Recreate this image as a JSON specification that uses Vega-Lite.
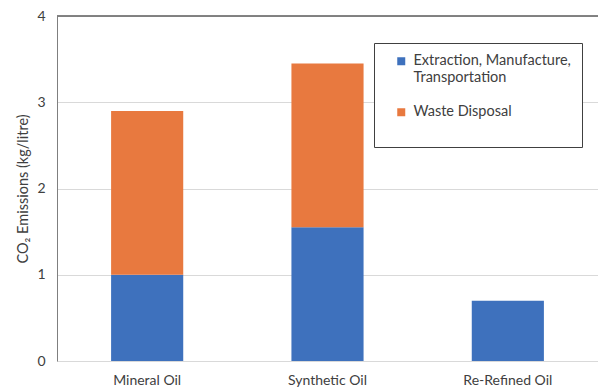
{
  "$schema": "https://vega.github.io/schema/vega-lite/v6.json",
  "width": 541,
  "height": 345,
  "autosize": {"type": "none"},
  "padding": {"left": 57, "top": 16, "right": 0, "bottom": 29},
  "config": {
    "view": {"stroke": null},
    "font": "Lato",
    "axis": {"labelFont": "Lato", "titleFont": "Lato", "labelColor": "#595959", "titleColor": "#595959"}
  },
  "data": {
    "values": [
      {"oil": "Mineral Oil", "component": "Extraction, Manufacture, Transportation", "order": 1, "value": 1.0},
      {"oil": "Mineral Oil", "component": "Waste Disposal", "order": 2, "value": 1.9},
      {"oil": "Synthetic Oil", "component": "Extraction, Manufacture, Transportation", "order": 1, "value": 1.55},
      {"oil": "Synthetic Oil", "component": "Waste Disposal", "order": 2, "value": 1.9},
      {"oil": "Re-Refined Oil", "component": "Extraction, Manufacture, Transportation", "order": 1, "value": 0.7}
    ]
  },
  "layer": [
    {
      "mark": {"type": "bar"},
      "encoding": {
        "x": {
          "field": "oil", "type": "nominal", "sort": ["Mineral Oil", "Synthetic Oil", "Re-Refined Oil"],
          "scale": {"paddingInner": 0.6, "paddingOuter": 0.3},
          "axis": {"title": null, "labelAngle": 0, "ticks": false, "domainColor": "#d9d9d9", "labelFontSize": 14, "labelPadding": 12, "labelColor": "#404040"}
        },
        "y": {
          "field": "value", "type": "quantitative", "stack": "zero",
          "scale": {"domain": [0, 4]},
          "axis": {"title": "CO₂ Emissions (kg/litre)", "values": [0, 1, 2, 3, 4], "format": "d", "labelOverlap": false, "ticks": false, "domainColor": "#7f7f7f", "gridColor": "#d9d9d9", "labelFontSize": 14, "labelPadding": 12, "titleFontSize": 14.5, "titleFontWeight": "normal", "titlePadding": 6, "labelColor": "#404040", "titleColor": "#404040"}
        },
        "color": {
          "field": "component", "type": "nominal",
          "scale": {"domain": ["Extraction, Manufacture, Transportation", "Waste Disposal"], "range": ["#3E71BD", "#E8793F"]},
          "legend": {
            "title": null, "orient": "none", "legendX": 317, "legendY": 27,
            "fillColor": "white", "strokeColor": "#404040", "padding": 11,
            "symbolType": "square", "symbolSize": 64, "symbolStrokeWidth": 0,
            "symbolOffset": 9,
            "labelFontSize": 14.5, "labelColor": "#404040", "labelLimit": 300, "labelOffset": 5,
            "rowPadding": 19,
            "labelExpr": "datum.label == 'Waste Disposal' ? ['Waste Disposal', ''] : ['Extraction, Manufacture,', 'Transportation']"
          }
        },
        "order": {"field": "order"}
      }
    },
    {
      "mark": {"type": "rule", "color": "#7f7f7f"},
      "encoding": {"y": {"datum": 4}}
    }
  ]
}
